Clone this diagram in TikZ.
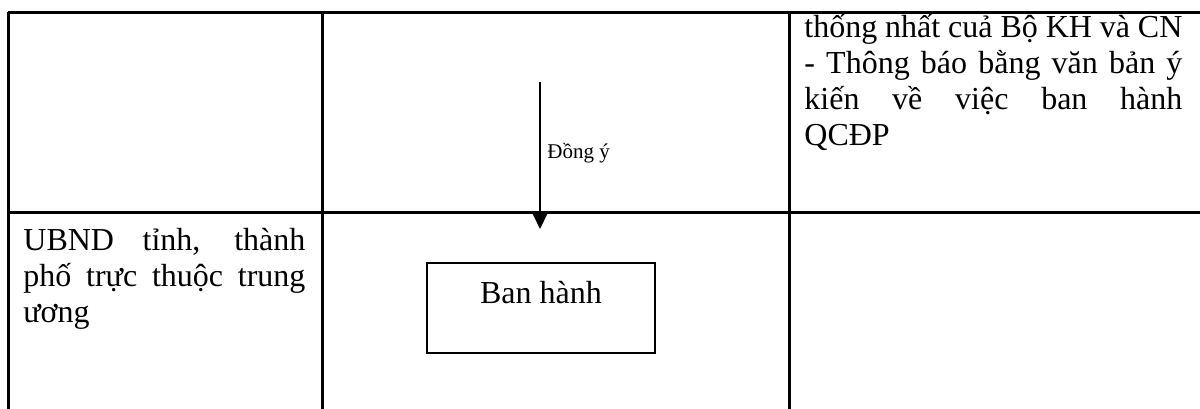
\documentclass[tikz,border=0pt]{standalone}
\usepackage{fontspec}
\setmainfont{Liberation Serif}
\usetikzlibrary{arrows.meta}
\begin{document}
\begin{tikzpicture}[x=0.5pt,y=-0.5pt,
  grid/.style={line width=1.5pt},
  celltext/.style={inner sep=0pt, anchor=base west, font=\fontsize{16}{19}\selectfont},
  stepbox/.style={draw, line width=1pt, minimum width=114pt, minimum height=45pt, inner sep=0pt},
  flow/.style={line width=1pt, -{Triangle[length=8pt,width=7.5pt]}},
  note/.style={inner sep=0pt, anchor=base west, font=\fontsize{10.5}{12}\selectfont}]
  \useasboundingbox (0,0) rectangle (1200,408);
  \clip (0,0) rectangle (1200,408);
  \fill[white] (0,0) rectangle (1200,408);

  % table rules (the table runs on past the right and bottom edges)
  \draw[grid] (8,12) -- (1220,12);
  \draw[grid] (8,212) -- (1220,212);
  \draw[grid] (8,12) -- (8,430);
  \draw[grid] (322,12) -- (322,430);
  \draw[grid] (789,12) -- (789,430);

  % right column, upper row
  \node[celltext] (r1) at (804,37) {\makebox[189pt][s]{thống nhất cuả Bộ KH và CN}};
  \node[celltext] (r2) at (804,73) {\makebox[189pt][s]{- Thông báo bằng văn bản ý}};
  \node[celltext] (r3) at (804,109) {\makebox[189pt][s]{kiến về việc ban hành}};
  \node[celltext] (r4) at (804,145) {QCĐP};

  % left column, lower row
  \node[celltext] (l1) at (23,250) {\makebox[141pt][s]{UBND tỉnh, thành}};
  \node[celltext] (l2) at (23,286) {\makebox[141pt][s]{phố trực thuộc trung}};
  \node[celltext] (l3) at (23,322) {ương};

  % step box
  \node[stepbox] (ban) at (541,308) {};
  \node[celltext, anchor=base] (bantext) at (541,303) {Ban hành};

  % approval arrow
  \coordinate (arrtop) at (540,82);
  \coordinate (arrtip) at (540,229);
  \draw[flow] (arrtop) -- (arrtip);
  \node[note] (ok) at (547,158) {Đồng ý};
\end{tikzpicture}
\end{document}
